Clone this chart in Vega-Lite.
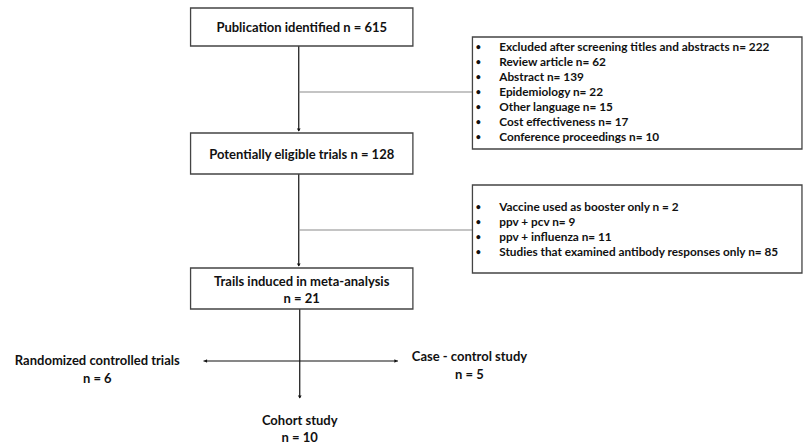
{
  "$schema": "https://vega.github.io/schema/vega-lite/v6.json",
  "width": 803,
  "height": 445,
  "padding": 0,
  "autosize": {"type": "fit", "contains": "padding"},
  "background": "white",
  "config": {"view": {"stroke": null}, "text": {"font": "Lato"}},
  "datasets": {
    "lines": [
      {"x": 301, "x2": 301, "y": 46, "y2": 131, "tone": "dark"},
      {"x": 301, "x2": 476, "y": 92, "y2": 92, "tone": "light"},
      {"x": 301, "x2": 301, "y": 174, "y2": 266, "tone": "dark"},
      {"x": 301, "x2": 476, "y": 230, "y2": 230, "tone": "light"},
      {"x": 302, "x2": 302, "y": 309, "y2": 398, "tone": "dark"},
      {"x": 205, "x2": 401, "y": 361, "y2": 361, "tone": "dark"}
    ],
    "boxes": [
      {"x": 192, "x2": 416, "y": 8, "y2": 46},
      {"x": 476, "x2": 808, "y": 37, "y2": 149},
      {"x": 192, "x2": 416, "y": 133, "y2": 174},
      {"x": 476, "x2": 808, "y": 185, "y2": 273},
      {"x": 192, "x2": 416, "y": 268, "y2": 309}
    ],
    "arrows": [
      {"x": 301, "y": 130, "shape": "triangle-down"},
      {"x": 301, "y": 265, "shape": "triangle-down"},
      {"x": 302, "y": 397, "shape": "triangle-down"},
      {"x": 207, "y": 361, "shape": "triangle-left"},
      {"x": 399, "y": 361, "shape": "triangle-right"}
    ],
    "labels": [
      {"x": 304, "y": 28, "label": "Publication identified n = 615"},
      {"x": 304, "y": 155, "label": "Potentially eligible trials n = 128"},
      {"x": 304, "y": 282, "label": "Trails induced in meta-analysis"},
      {"x": 304, "y": 299, "label": "n = 21"},
      {"x": 98, "y": 361, "label": "Randomized controlled trials"},
      {"x": 98, "y": 379, "label": "n = 6"},
      {"x": 473, "y": 357, "label": "Case - control study"},
      {"x": 473, "y": 375, "label": "n = 5"},
      {"x": 302, "y": 421, "label": "Cohort study"},
      {"x": 302, "y": 438, "label": "n = 10"}
    ],
    "items": [
      {"x": 503, "y": 47, "item": "Excluded after screening titles and abstracts n= 222"},
      {"x": 503, "y": 62, "item": "Review article n= 62"},
      {"x": 503, "y": 77, "item": "Abstract n= 139"},
      {"x": 503, "y": 92, "item": "Epidemiology n= 22"},
      {"x": 503, "y": 107, "item": "Other language n= 15"},
      {"x": 503, "y": 122, "item": "Cost effectiveness n= 17"},
      {"x": 503, "y": 137, "item": "Conference proceedings n= 10"},
      {"x": 503, "y": 207, "item": "Vaccine used as booster only n = 2"},
      {"x": 503, "y": 222, "item": "ppv + pcv n= 9"},
      {"x": 503, "y": 237, "item": "ppv + influenza n= 11"},
      {"x": 503, "y": 252, "item": "Studies that examined antibody responses only n= 85"}
    ]
  },
  "encoding": {
    "x": {"field": "x", "type": "quantitative", "scale": {"domain": [0, 803], "nice": false, "zero": false}, "axis": null},
    "y": {"field": "y", "type": "quantitative", "scale": {"domain": [0, 445], "nice": false, "zero": false, "reverse": true}, "axis": null}
  },
  "layer": [
    {
      "data": {"name": "lines"},
      "mark": {"type": "rule", "strokeWidth": 1.2},
      "encoding": {
        "x2": {"field": "x2"},
        "y2": {"field": "y2"},
        "color": {"field": "tone", "type": "nominal", "scale": {"domain": ["dark", "light"], "range": ["#111111", "#8a8a8a"]}, "legend": null}
      }
    },
    {
      "data": {"name": "boxes"},
      "mark": {"type": "rect", "fill": "white", "stroke": "#444444", "strokeWidth": 1.3},
      "encoding": {
        "x2": {"field": "x2"},
        "y2": {"field": "y2"}
      }
    },
    {
      "data": {"name": "arrows"},
      "mark": {"type": "point", "filled": true, "size": 14, "color": "#111111", "opacity": 1},
      "encoding": {
        "shape": {"field": "shape", "type": "nominal", "scale": null}
      }
    },
    {
      "data": {"name": "labels"},
      "mark": {"type": "text", "fontSize": 13, "fontWeight": "bold", "align": "center", "baseline": "middle", "color": "#111111"},
      "encoding": {"text": {"field": "label"}}
    },
    {
      "data": {"name": "items"},
      "mark": {"type": "text", "fontSize": 11.8, "fontWeight": "bold", "align": "left", "baseline": "middle", "color": "#111111"},
      "encoding": {"text": {"field": "item"}}
    },
    {
      "data": {"name": "items"},
      "mark": {"type": "text", "text": "•", "dx": -21, "fontSize": 9, "fontWeight": "bold", "align": "center", "baseline": "middle", "color": "#111111"},
      "encoding": {}
    }
  ]
}
